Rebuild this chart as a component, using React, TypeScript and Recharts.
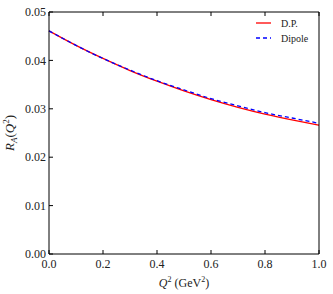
import * as React from 'react'
import { Line, LineChart, XAxis, YAxis } from 'recharts'

const q2 = [0, 0.1, 0.2, 0.3, 0.4, 0.5, 0.6, 0.7, 0.8, 0.9, 1.0]
const dpValues = [0.0461, 0.0431, 0.0404, 0.0379, 0.0357, 0.0337, 0.0319, 0.0303, 0.0289, 0.0277, 0.0266]
const dipoleValues = [0.0461, 0.0431, 0.0404, 0.038, 0.0358, 0.0339, 0.0321, 0.0306, 0.0292, 0.0281, 0.027]
const xTicks = [0, 0.2, 0.4, 0.6, 0.8, 1.0]
const yTicks = [0, 0.01, 0.02, 0.03, 0.04, 0.05]

const data = q2.map((q, i) => ({ q, dp: dpValues[i], dipole: dipoleValues[i] }))

const FONT = '"Liberation Serif", "DejaVu Serif", serif'
const tickStyle = { fontFamily: FONT, fontSize: 12, fill: '#222' }

const noLabel = () => <g />

const LegendBox = () => (
  <svg width={80} height={40} style={{ position: 'absolute', left: 254, top: 15, overflow: 'visible' }}>
    <line x1={2} y1={8} x2={17} y2={8} stroke="red" strokeWidth={1.3} />
    <text x={27} y={12} fontFamily={FONT} fontSize={10} fill="#222">D.P.</text>
    <line x1={2} y1={23} x2={17} y2={23} stroke="blue" strokeWidth={1.3} strokeDasharray="4 3" />
    <text x={27} y={27} fontFamily={FONT} fontSize={10} fill="#222">Dipole</text>
  </svg>
)

export default function App() {
  return (
    <div style={{ position: 'absolute', left: 0, top: 0, width: 333, height: 294, background: '#fff' }}>
      <LineChart width={333} height={294} data={data} margin={{ top: 11, right: 13, bottom: 0, left: 0 }}>
        <XAxis
          dataKey="q"
          type="number"
          domain={[0, 1]}
          ticks={xTicks}
          tickFormatter={(v: number) => v.toFixed(1)}
          height={40}
          tickSize={-4}
          tickMargin={9}
          stroke="#000"
          tick={tickStyle}
          tickLine={{ stroke: '#000' }}
          axisLine={{ stroke: '#000' }}
        />
        <XAxis
          xAxisId="top"
          dataKey="q"
          type="number"
          orientation="top"
          domain={[0, 1]}
          ticks={xTicks}
          height={1}
          tickSize={-4}
          tick={noLabel}
          stroke="#000"
        />
        <YAxis
          type="number"
          domain={[0, 0.05]}
          ticks={yTicks}
          tickFormatter={(v: number) => v.toFixed(2)}
          width={49}
          tickSize={-4}
          tickMargin={7}
          stroke="#000"
          tick={tickStyle}
          tickLine={{ stroke: '#000' }}
          axisLine={{ stroke: '#000' }}
        />
        <YAxis
          yAxisId="right"
          type="number"
          orientation="right"
          domain={[0, 0.05]}
          ticks={yTicks}
          width={1}
          tickSize={-4}
          tick={noLabel}
          stroke="#000"
        />
        <Line
          dataKey="dp"
          name="D.P."
          type="natural"
          stroke="red"
          strokeWidth={1.3}
          dot={false}
          isAnimationActive={false}
        />
        <Line
          dataKey="dipole"
          name="Dipole"
          type="natural"
          stroke="blue"
          strokeWidth={1.3}
          strokeDasharray="4 3"
          dot={false}
          isAnimationActive={false}
        />
        <text x={184} y={287} textAnchor="middle" fontFamily={FONT} fontSize={12} fill="#222">
          <tspan fontStyle="italic">Q</tspan>
          <tspan fontSize={8} dy={-5}>2</tspan>
          <tspan dy={5}> (GeV</tspan>
          <tspan fontSize={8} dy={-5}>2</tspan>
          <tspan dy={5}>)</tspan>
        </text>
        <text
          x={14}
          y={133}
          textAnchor="middle"
          fontFamily={FONT}
          fontSize={13}
          fill="#222"
          transform="rotate(-90, 14, 133)"
        >
          <tspan fontStyle="italic">R</tspan>
          <tspan fontStyle="italic" fontSize={9} dy={3}>A</tspan>
          <tspan dy={-3}>(</tspan>
          <tspan fontStyle="italic">Q</tspan>
          <tspan fontSize={9} dy={-5}>2</tspan>
          <tspan dy={5}>)</tspan>
        </text>
      </LineChart>
      <LegendBox />
    </div>
  )
}
